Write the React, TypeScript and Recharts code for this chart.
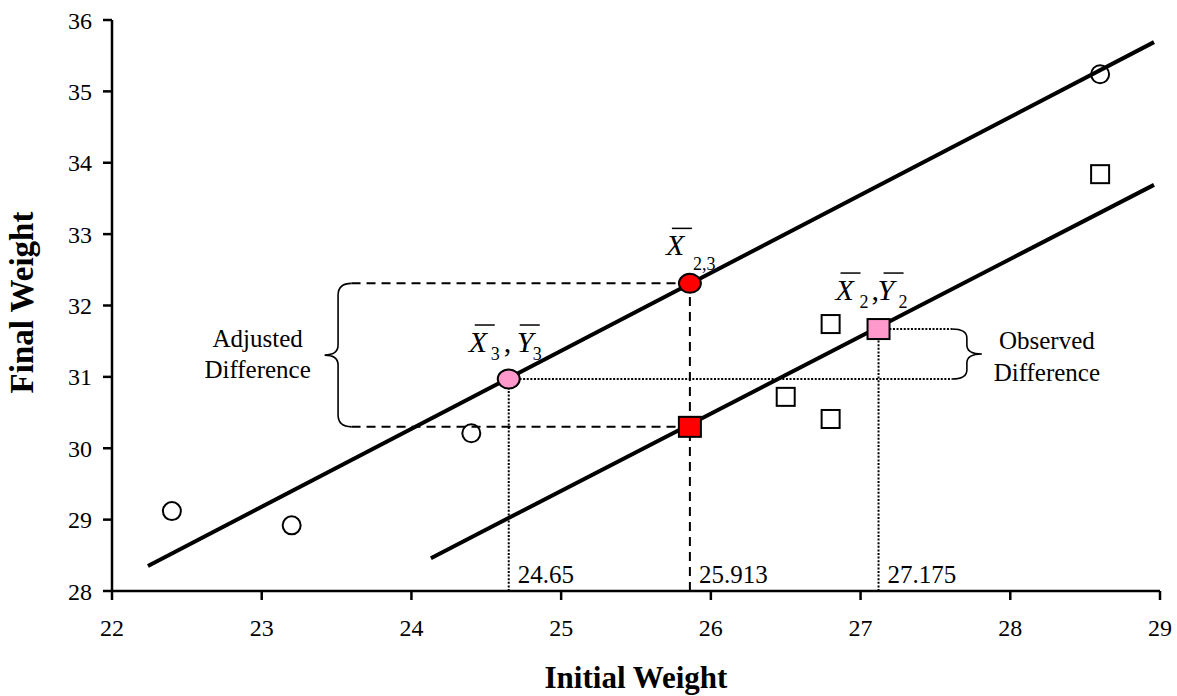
import React from 'react';
import {
  ScatterChart,
  Scatter,
  XAxis,
  YAxis,
  ReferenceLine,
  ReferenceArea,
  ReferenceDot,
} from 'recharts';

const FONT = 'Liberation Serif, Times New Roman, Tinos, DejaVu Serif, serif';

const xTicks = [22, 23, 24, 25, 26, 27, 28, 29];
const yTicks = [28, 29, 30, 31, 32, 33, 34, 35, 36];

// Group 3 (open circles) and group 2 (open squares)
const group3Points = [
  { x: 22.4, y: 29.12 },
  { x: 23.2, y: 28.92 },
  { x: 24.4, y: 30.21 },
  { x: 28.6, y: 35.24 },
];
const group2Points = [
  { x: 26.5, y: 30.72 },
  { x: 26.8, y: 31.74 },
  { x: 26.8, y: 30.41 },
  { x: 28.6, y: 33.84 },
];

// regression lines (end points)
const upperLine = [
  { x: 22.24, y: 28.35 },
  { x: 28.96, y: 35.69 },
];
const lowerLine = [
  { x: 24.13, y: 28.46 },
  { x: 28.96, y: 33.69 },
];

// means
const grandMeanX = 25.86;
const mean3 = { x: 24.65, y: 30.97 };
const mean2 = { x: 27.12, y: 31.67 };
const adjUpper = { x: grandMeanX, y: 32.31 };
const adjLower = { x: grandMeanX, y: 30.3 };

const redCircleData = [adjUpper];
const redSquareData = [adjLower];
const pinkCircleData = [mean3];
const pinkSquareData = [mean2];

// value labels along the x axis
const valueLabelPos = [mean3.x, grandMeanX, mean2.x];
const valueLabelText = ['24.65', '25.913', '27.175'];

// brace extents
const leftBraceX = [23.42, 23.6];
const rightBraceX = [27.61, 27.81];

const txt = (size: number, extra: any = {}) => ({ fontFamily: FONT, fontSize: size, ...extra });

const openCircle = (p: any) => (
  <circle cx={p.cx} cy={p.cy} r={9} fill="none" stroke="#000" strokeWidth={2} />
);
const openSquare = (p: any) => (
  <rect x={p.cx - 9} y={p.cy - 9} width={18} height={18} fill="none" stroke="#000" strokeWidth={2} />
);
const filledEllipse = (color: string) => (p: any) => (
  <ellipse cx={p.cx} cy={p.cy} rx={11} ry={9.5} fill={color} stroke="#000" strokeWidth={2} />
);
const filledSquare = (color: string) => (p: any) => (
  <rect x={p.cx - 11} y={p.cy - 10} width={22} height={20} fill={color} stroke="#000" strokeWidth={2} />
);
const noShape = () => <g />;

type Part = { t: string; dx: number; dy: number; italic?: boolean; size: number; bar?: [number, number] };

const MeanLabel = ({ cx, cy, parts, barY }: { cx: number; cy: number; parts: Part[]; barY: number }) => (
  <g>
    {parts.map((p, i) => (
      <g key={i}>
        <text
          x={cx + p.dx}
          y={cy + p.dy}
          style={txt(p.size, { fontStyle: p.italic ? 'italic' : 'normal' })}
          fill="#000"
        >
          {p.t}
        </text>
        {p.bar && (
          <line x1={cx + p.bar[0]} x2={cx + p.bar[1]} y1={cy + barY} y2={cy + barY} stroke="#000" strokeWidth={1.5} />
        )}
      </g>
    ))}
  </g>
);

const labelX23: Part[] = [
  { t: 'X', dx: -24, dy: -28, italic: true, size: 30, bar: [-18, 2] },
  { t: '2,3', dx: 3, dy: -13, size: 18 },
];
const labelX3Y3: Part[] = [
  { t: 'X', dx: -40, dy: -27, italic: true, size: 30, bar: [-34, -14] },
  { t: '3', dx: -18, dy: -19, size: 18 },
  { t: ',', dx: -5, dy: -27, size: 30 },
  { t: 'Y', dx: 8, dy: -27, italic: true, size: 30, bar: [11, 31] },
  { t: '3', dx: 24, dy: -19, size: 18 },
];
const labelX2Y2: Part[] = [
  { t: 'X', dx: -43, dy: -29, italic: true, size: 30, bar: [-38, -18] },
  { t: '2', dx: -19, dy: -21, size: 18 },
  { t: ',', dx: -7, dy: -29, size: 30 },
  { t: 'Y', dx: -1, dy: -29, italic: true, size: 30, bar: [5, 25] },
  { t: '2', dx: 20, dy: -21, size: 18 },
];

const leftBrace = (p: any) => {
  const { x, y, width, height } = p;
  const xe = x + width;
  const xv = x + width * 0.5;
  const x0 = x;
  const y0 = y;
  const y1 = y + height;
  const ym = y + height / 2;
  const d = `M ${xe} ${y0} Q ${xv} ${y0} ${xv} ${y0 + 12} L ${xv} ${ym - 10} Q ${xv} ${ym} ${x0} ${ym} Q ${xv} ${ym} ${xv} ${ym + 10} L ${xv} ${y1 - 12} Q ${xv} ${y1} ${xe} ${y1}`;
  return <path d={d} fill="none" stroke="#000" strokeWidth={1.6} />;
};
const rightBrace = (p: any) => {
  const { x, y, width, height } = p;
  const xe = x;
  const xv = x + width * 0.5;
  const x0 = x + width;
  const y0 = y;
  const y1 = y + height;
  const ym = y + height / 2;
  const r = Math.min(9, height / 4);
  const d = `M ${xe} ${y0} Q ${xv} ${y0} ${xv} ${y0 + r} L ${xv} ${ym - r} Q ${xv} ${ym} ${x0} ${ym} Q ${xv} ${ym} ${xv} ${ym + r} L ${xv} ${y1 - r} Q ${xv} ${y1} ${xe} ${y1}`;
  return <path d={d} fill="none" stroke="#000" strokeWidth={1.6} />;
};

const twoLineText = (lines: string[], dx: number, dy: number, gap: number) => (p: any) => (
  <text x={p.cx + dx} y={p.cy + dy} style={txt(25)} textAnchor="middle" fill="#000">
    {lines.map((l, i) => (
      <tspan key={i} x={p.cx + dx} dy={i === 0 ? 0 : gap}>
        {l}
      </tspan>
    ))}
  </text>
);

const valueText = (t: string) => (p: any) => (
  <text x={p.cx + 9} y={p.cy - 8} style={txt(25)} fill="#000">
    {t}
  </text>
);

const tickStyle = { fontFamily: FONT, fontSize: 24, fill: '#000', style: { fontFamily: FONT } };
const dash = '9 6';
const dot = '2 1.6';

export default function App() {
  return (
    <div style={{ width: 1177, height: 696, fontFamily: FONT }}>
      <style>{`body{margin:0;} svg text{font-family:${FONT};}`}</style>
      <ScatterChart width={1177} height={696} margin={{ top: 20, right: 17, bottom: 0, left: 0 }}>
        <XAxis
          type="number"
          dataKey="x"
          domain={[22, 29]}
          ticks={xTicks}
          allowDataOverflow
          height={105}
          tick={tickStyle}
          tickSize={9}
          tickMargin={19}
          axisLine={{ stroke: '#000', strokeWidth: 2.5 }}
          tickLine={{ stroke: '#000', strokeWidth: 2.5 }}
          label={{
            content: (props: any) => {
              const vb = props.viewBox;
              return (
                <text
                  x={vb.x + vb.width / 2}
                  y={vb.y + 97}
                  textAnchor="middle"
                  style={txt(31, { fontWeight: 'bold' })}
                  fill="#000"
                >
                  Initial Weight
                </text>
              );
            },
          }}
        />
        <YAxis
          type="number"
          dataKey="y"
          domain={[28, 36]}
          ticks={yTicks}
          allowDataOverflow
          width={112}
          tick={tickStyle}
          tickSize={9}
          tickMargin={11}
          axisLine={{ stroke: '#000', strokeWidth: 2.5 }}
          tickLine={{ stroke: '#000', strokeWidth: 2.5 }}
          label={{
            content: (props: any) => {
              const vb = props.viewBox;
              const cx = 33;
              const cy = vb.y + vb.height / 2 - 3;
              return (
                <text
                  x={cx}
                  y={cy}
                  transform={`rotate(-90 ${cx} ${cy})`}
                  textAnchor="middle"
                  style={txt(33, { fontWeight: 'bold' })}
                  fill="#000"
                >
                  Final Weight
                </text>
              );
            },
          }}
        />

        {/* dashed guide lines */}
        <ReferenceLine segment={[{ x: leftBraceX[1], y: adjUpper.y }, { x: adjUpper.x, y: adjUpper.y }]} stroke="#000" strokeWidth={2} strokeDasharray={dash} ifOverflow="visible" />
        <ReferenceLine segment={[{ x: leftBraceX[1], y: adjLower.y }, { x: adjLower.x, y: adjLower.y }]} stroke="#000" strokeWidth={2} strokeDasharray={dash} ifOverflow="visible" />
        <ReferenceLine segment={[{ x: grandMeanX, y: 28 }, { x: grandMeanX, y: adjUpper.y }]} stroke="#000" strokeWidth={2} strokeDasharray={dash} ifOverflow="visible" />

        {/* dotted guide lines */}
        <ReferenceLine segment={[{ x: mean3.x, y: 28 }, { x: mean3.x, y: mean3.y }]} stroke="#000" strokeWidth={2} strokeDasharray={dot} ifOverflow="visible" />
        <ReferenceLine segment={[{ x: mean2.x, y: 28 }, { x: mean2.x, y: mean2.y }]} stroke="#000" strokeWidth={2} strokeDasharray={dot} ifOverflow="visible" />
        <ReferenceLine segment={[{ x: mean3.x, y: mean3.y }, { x: rightBraceX[0], y: mean3.y }]} stroke="#000" strokeWidth={2} strokeDasharray={dot} ifOverflow="visible" />
        <ReferenceLine segment={[{ x: mean2.x, y: mean2.y }, { x: rightBraceX[0], y: mean2.y }]} stroke="#000" strokeWidth={2} strokeDasharray={dot} ifOverflow="visible" />

        {/* braces */}
        <ReferenceArea x1={leftBraceX[0]} x2={leftBraceX[1]} y1={adjLower.y} y2={adjUpper.y} shape={leftBrace} ifOverflow="visible" />
        <ReferenceArea x1={rightBraceX[0]} x2={rightBraceX[1]} y1={mean3.y} y2={mean2.y} shape={rightBrace} ifOverflow="visible" />

        {/* regression lines */}
        <Scatter data={upperLine} line={{ stroke: '#000', strokeWidth: 4 }} shape={noShape} isAnimationActive={false} />
        <Scatter data={lowerLine} line={{ stroke: '#000', strokeWidth: 4 }} shape={noShape} isAnimationActive={false} />

        {/* raw data */}
        <Scatter data={group3Points} shape={openCircle} isAnimationActive={false} />
        <Scatter data={group2Points} shape={openSquare} isAnimationActive={false} />

        {/* means */}
        <Scatter data={redCircleData} shape={filledEllipse('#FF0000')} isAnimationActive={false} />
        <Scatter data={redSquareData} shape={filledSquare('#FF0000')} isAnimationActive={false} />
        <Scatter data={pinkCircleData} shape={filledEllipse('#FF99CC')} isAnimationActive={false} />
        <Scatter data={pinkSquareData} shape={filledSquare('#FF99CC')} isAnimationActive={false} />

        {/* mean labels */}
        <ReferenceDot x={adjUpper.x} y={adjUpper.y} r={0} ifOverflow="visible" shape={(p: any) => <MeanLabel cx={p.cx} cy={p.cy} parts={labelX23} barY={-55} />} />
        <ReferenceDot x={mean3.x} y={mean3.y} r={0} ifOverflow="visible" shape={(p: any) => <MeanLabel cx={p.cx} cy={p.cy} parts={labelX3Y3} barY={-54} />} />
        <ReferenceDot x={mean2.x} y={mean2.y} r={0} ifOverflow="visible" shape={(p: any) => <MeanLabel cx={p.cx} cy={p.cy} parts={labelX2Y2} barY={-56} />} />

        {/* brace texts */}
        <ReferenceDot x={leftBraceX[0]} y={(adjUpper.y + adjLower.y) / 2} r={0} ifOverflow="visible" shape={twoLineText(['Adjusted', 'Difference'], -67, -8, 31)} />
        <ReferenceDot x={rightBraceX[1]} y={(mean3.y + mean2.y) / 2} r={0} ifOverflow="visible" shape={twoLineText(['Observed', 'Difference'], 65, -5, 32)} />

        {/* value labels */}
        {valueLabelPos.map((v, i) => (
          <ReferenceDot key={i} x={v} y={28} r={0} ifOverflow="visible" shape={valueText(valueLabelText[i])} />
        ))}
      </ScatterChart>
    </div>
  );
}
